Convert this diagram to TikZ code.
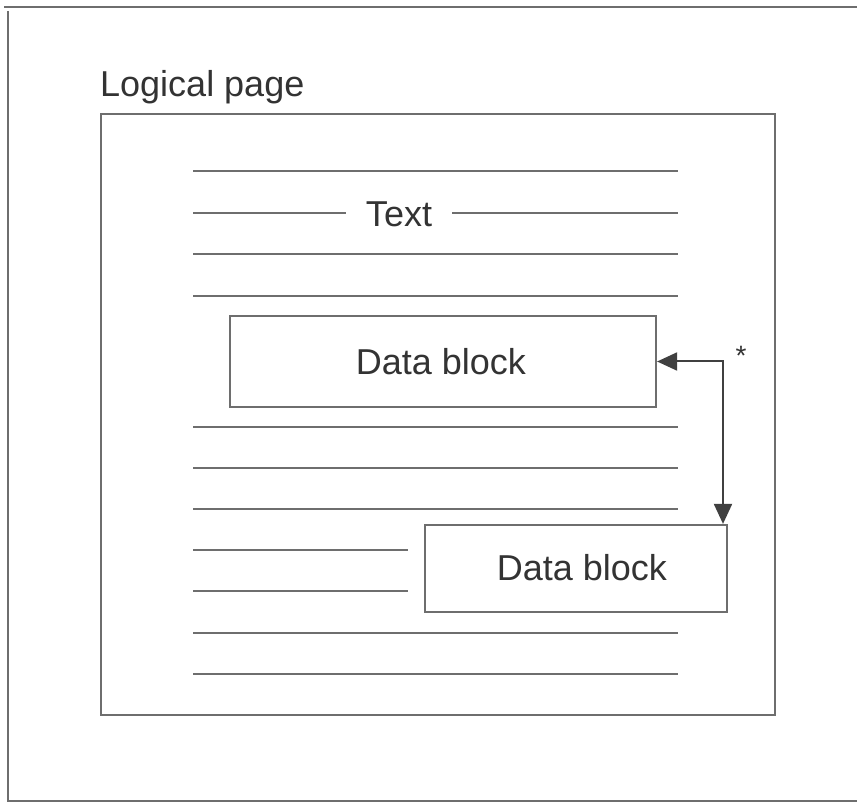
\documentclass[tikz,border=0pt]{standalone}
\usepackage{fontspec}
\setmainfont{Liberation Sans}
\usetikzlibrary{arrows.meta}
\definecolor{linegray}{HTML}{6E6E6E}
\definecolor{txtgray}{HTML}{333333}
\tikzset{
  rule/.style={draw=linegray, line width=2.2pt},
  blockbox/.style={draw=linegray, line width=2.2pt, fill=white, minimum width=#1, text=txtgray, font=\fontsize{36}{40}\selectfont, inner sep=0pt},
  lbl/.style={text=txtgray, font=\fontsize{36}{40}\selectfont, inner sep=0pt},
  link/.style={draw=black!75, line width=2pt, {Triangle[length=20pt,width=18pt]}-{Triangle[length=20pt,width=18pt]}}
}
\begin{document}
\begin{tikzpicture}[x=1pt,y=-1pt]
\useasboundingbox (0,0) rectangle (857,802);
% outer frame (open on the right)
\draw[rule] (4,7) -- (857,7);
\draw[rule] (8,11) -- (8,801) -- (857,801);
% logical page
\node[lbl, anchor=base west] (lp) at (100,97) {Logical page};
\node[draw=linegray, line width=2.2pt, minimum width=674pt, minimum height=601pt, inner sep=0pt] (page) at (438,414.5) {};
% text lines
\draw[rule] (193,171) -- (678,171);
\node[lbl, fill=white, inner xsep=20pt] (txt) at (399,214) {Text};
\draw[rule] (193,213) -- (txt.west |- 193,213);
\draw[rule] (txt.east |- 193,213) -- (678,213);
\draw[rule] (193,254) -- (678,254);
\draw[rule] (193,296) -- (678,296);
% data block 1
\node[blockbox=426pt, minimum height=91pt] (d1) at (443,361.5) {\raisebox{1pt}{\hspace*{-4pt}Data block}};
% lines below
\draw[rule] (193,427) -- (678,427);
\draw[rule] (193,468) -- (678,468);
\draw[rule] (193,509) -- (678,509);
\draw[rule] (193,550) -- (408,550);
\draw[rule] (193,591) -- (408,591);
\draw[rule] (193,633) -- (678,633);
\draw[rule] (193,674) -- (678,674);
% data block 2
\node[blockbox=302pt, minimum height=87pt] (d2) at (576,568.5) {\raisebox{3pt}{\hspace*{12pt}Data block}};
% connector
\coordinate (turn) at (723,361.5);
\draw[link] (d1.east) -- (turn) -- (d2.north -| turn);
\node[lbl, font=\fontsize{28}{30}\selectfont, text=black!80] (star) at (741,356) {*};
\end{tikzpicture}
\end{document}
